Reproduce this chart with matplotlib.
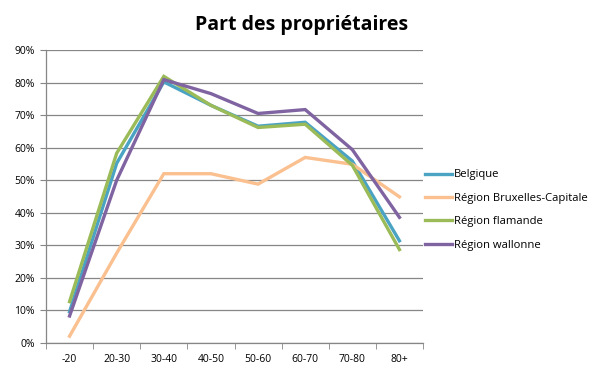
import matplotlib
matplotlib.use("Agg")
import matplotlib.pyplot as plt
import numpy as np

categories = ["-20", "20-30", "30-40", "40-50", "50-60", "60-70", "70-80", "80+"]
belgique = [9.6, 55.2, 80.2, 73.0, 66.6, 67.8, 55.9, 31.4]
bruxelles = [2.1, 27.6, 52.0, 52.0, 48.8, 57.0, 54.9, 44.9]
flamande = [12.7, 58.3, 81.9, 73.0, 66.2, 67.2, 54.6, 28.7]
wallonne = [8.3, 50.0, 80.9, 76.6, 70.5, 71.7, 59.4, 38.6]
series_names = ["Belgique", "Région Bruxelles-Capitale", "Région flamande", "Région wallonne"]
colors = ["#4BA3C3", "#FAC08F", "#9BBB59", "#8064A2"]

plt.rcParams['font.family'] = ['Open Sans', 'DejaVu Sans']

fig = plt.figure(figsize=(6.05, 3.78), dpi=100)
ax = fig.add_axes([46/605, (378-343)/378, (423-46)/605, (343-50)/378])

x = np.arange(len(categories))
for vals, name, c in zip([belgique, bruxelles, flamande, wallonne], series_names, colors):
    ax.plot(x, np.array(vals) / 100, color=c, lw=2.4, label=name, solid_joinstyle='miter')

ax.set_xlim(-0.5, len(categories) - 0.5)
ax.set_ylim(0, 0.9)
ax.set_yticks(np.arange(0, 0.91, 0.1))
ax.set_yticklabels([f"{int(round(v*100))}%" for v in np.arange(0, 0.91, 0.1)], fontsize=7.5)
ax.set_xticks(x)
ax.set_xticklabels(categories, fontsize=7.5)
ax.set_xticks(np.arange(-0.5, len(categories)), minor=True)
ax.tick_params(axis='x', which='major', length=0, pad=8)
ax.tick_params(axis='x', which='minor', length=4, color='#868686')
ax.tick_params(axis='y', length=4, color='#868686', pad=4)
ax.grid(axis='y', color='#868686', lw=0.9)
ax.set_axisbelow(True)
for s in ['top', 'right']:
    ax.spines[s].set_visible(False)
for s in ['left', 'bottom']:
    ax.spines[s].set_color('#868686')
    ax.spines[s].set_linewidth(0.9)

fig.text(302/605, 1 - 25/378, "Part des propriétaires", ha='center', va='center',
         fontsize=14, fontweight='bold')

leg = ax.legend(loc='center left', frameon=False, fontsize=8.1, handlelength=2.4,
                handletextpad=0.2, labelspacing=1.1,
                bbox_to_anchor=(414.5/605, 1 - 210/378), bbox_transform=fig.transFigure)

fig.savefig("out.png", dpi=100)
